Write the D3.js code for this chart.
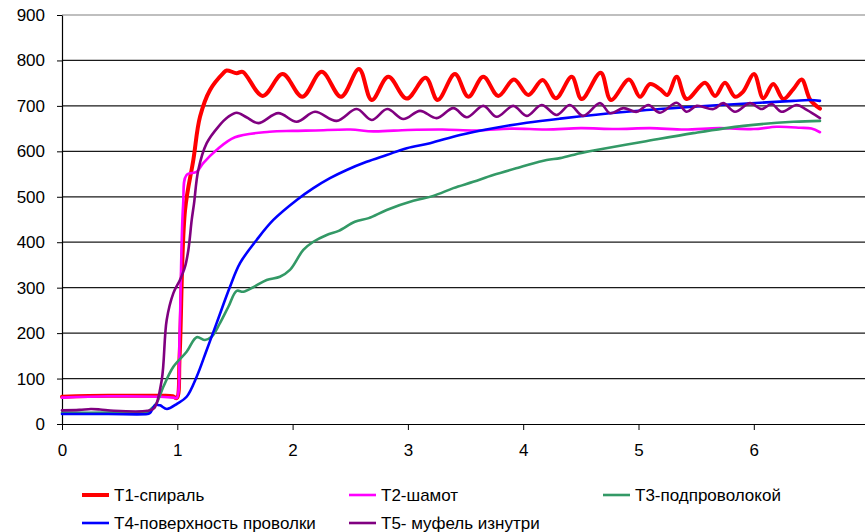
<!DOCTYPE html>
<html>
<head>
<meta charset="utf-8">
<script src="https://cdn.jsdelivr.net/npm/d3@7"></script>
<style>
  html, body { margin: 0; padding: 0; background: #fff; }
  svg { display: block; font-family: "Liberation Sans", Arial, sans-serif; }
</style>
</head>
<body>
<svg id="chart" width="865" height="532"></svg>
<script>
// ---- data (time, temperature) ----
const xTicks = [0, 1, 2, 3, 4, 5, 6];
const yTicks = [0, 100, 200, 300, 400, 500, 600, 700, 800, 900];

const seriesNames = ["T1-спираль", "T2-шамот", "T3-подпроволокой", "T4-поверхность проволки", "T5- муфель изнутри"];
const seriesColors = ["#FF0000", "#FF00FF", "#339966", "#0000FF", "#800080"];

const t1 = [[0,60],[0.4,62],[0.85,62],[0.96,61],[0.995,57],[1.02,150],[1.067,470],[1.139,581],[1.197,676],[1.284,735],[1.399,772],[1.428,778],[1.515,772],[1.567,775],[1.741,722],[1.914,770],[2.084,720],[2.252,775],[2.42,720],[2.576,781],[2.686,713],[2.83,764],[2.99,716],[3.154,762],[3.258,713],[3.408,770],[3.524,720],[3.654,764],[3.784,722],[3.92,758],[4.044,724],[4.169,757],[4.284,717],[4.421,764],[4.507,715],[4.672,773],[4.761,713],[4.918,758],[5.013,720],[5.1,748],[5.187,737],[5.25,724],[5.331,764],[5.418,715],[5.577,751],[5.664,722],[5.75,751],[5.837,720],[5.906,731],[6.002,770],[6.082,717],[6.169,748],[6.256,715],[6.343,737],[6.415,758],[6.49,713],[6.574,694]];

const t2 = [[0,58],[0.4,61],[0.85,60],[0.97,58],[0.995,57],[1.02,200],[1.05,480],[1.08,548],[1.168,555],[1.225,574],[1.34,603],[1.5,631],[1.8,643],[2.0,645],[2.2,646],[2.5,648],[2.7,644],[3.0,647],[3.3,648],[3.6,646],[3.9,650],[4.2,648],[4.5,651],[4.8,649],[5.1,651],[5.4,648],[5.7,651],[6.0,649],[6.2,654],[6.4,652],[6.5,650],[6.574,642]];

const t3 = [[0,25],[0.4,25],[0.74,26],[0.763,31],[0.82,46],[0.879,82],[0.966,126],[1.081,159],[1.168,191],[1.24,185],[1.298,192],[1.37,222],[1.443,258],[1.515,293],[1.572,291],[1.66,301],[1.775,317],[1.89,324],[1.977,339],[2.093,383],[2.18,401],[2.296,416],[2.4,425],[2.54,445],[2.66,453],[2.816,471],[3.047,491],[3.22,502],[3.394,519],[3.567,533],[3.74,548],[3.972,565],[4.204,581],[4.32,585],[4.493,596],[4.61,602],[5.04,621],[5.475,640],[5.91,656],[6.343,665],[6.574,667]];

const t4 = [[0,22],[0.4,22],[0.74,22],[0.763,24],[0.81,42],[0.85,41],[0.91,33],[1.0,45],[1.081,60],[1.168,104],[1.255,163],[1.341,222],[1.457,302],[1.544,354],[1.688,405],[1.833,449],[2.036,493],[2.18,519],[2.324,541],[2.469,559],[2.642,577],[2.816,592],[2.99,607],[3.192,618],[3.452,636],[3.74,651],[4.03,663],[4.32,672],[4.897,687],[5.475,698],[6.054,707],[6.343,711],[6.487,713],[6.574,711]];

const t5 = [[0,30],[0.15,31],[0.25,33],[0.33,32],[0.45,29],[0.74,29],[0.8,35],[0.865,97],[0.908,229],[0.966,288],[1.023,317],[1.067,346],[1.096,383],[1.125,449],[1.145,485],[1.182,559],[1.255,618],[1.355,654],[1.442,676],[1.515,685],[1.6,675],[1.703,662],[1.876,684],[2.036,665],[2.194,687],[2.382,667],[2.556,693],[2.686,669],[2.821,693],[2.96,671],[3.105,689],[3.25,673],[3.394,695],[3.51,675],[3.654,700],[3.77,676],[3.914,700],[4.03,678],[4.16,702],[4.29,680],[4.405,702],[4.52,678],[4.666,706],[4.753,684],[4.869,695],[4.985,687],[5.085,702],[5.186,685],[5.331,707],[5.418,687],[5.505,700],[5.65,693],[5.735,706],[5.837,687],[5.967,706],[6.068,693],[6.155,704],[6.242,687],[6.372,702],[6.459,691],[6.574,673]];

const allSeries = [t1, t2, t3, t4, t5];

// ---- layout ----
const svg = d3.select("#chart");
const plotLeft = 62, plotTop = 15, plotBottom = 424, plotRight = 865;
const x = d3.scaleLinear().domain([0, 7]).range([plotLeft, plotLeft + 7 * 115.3]);
const y = d3.scaleLinear().domain([0, 900]).range([plotBottom, plotTop]);

// gridlines
svg.append("g").selectAll("line").data(yTicks.filter(d => d > 0)).join("line")
  .attr("x1", plotLeft).attr("x2", plotRight)
  .attr("y1", d => y(d)).attr("y2", d => y(d))
  .attr("stroke", d => d === 900 ? "#808080" : "#1a1a1a").attr("stroke-width", 1.2);

// y axis
const yAxis = svg.append("g").attr("transform", `translate(${plotLeft},0)`)
  .call(d3.axisLeft(y).tickValues(yTicks).tickSize(5).tickPadding(12).tickSizeOuter(0));
yAxis.select(".domain").attr("stroke", "#000").attr("stroke-width", 1.2);
yAxis.selectAll(".tick line").attr("stroke", "#000");
yAxis.selectAll("text").attr("font-size", 17).attr("fill", "#000")
  .style("font-family", "'Liberation Sans', Arial, sans-serif");

// x axis
const xAxis = svg.append("g").attr("transform", `translate(0,${plotBottom})`)
  .call(d3.axisBottom(x).tickValues(xTicks).tickFormat(d3.format("d")).tickSize(6).tickPadding(14).tickSizeOuter(0));
xAxis.select(".domain").attr("d", `M${plotLeft},0.5H${plotRight}`).attr("stroke", "#000").attr("stroke-width", 1.2);
xAxis.selectAll(".tick line").attr("stroke", "#000");
xAxis.selectAll("text").attr("font-size", 17).attr("fill", "#000")
  .style("font-family", "'Liberation Sans', Arial, sans-serif");

// lines
const line = d3.line().x(d => x(d[0])).y(d => y(d[1])).curve(d3.curveCatmullRom.alpha(0.5));
const widths = [4, 2.6, 2.6, 2.6, 2.6];
svg.append("g").selectAll("path").data(allSeries).join("path")
  .attr("d", d => line(d))
  .attr("fill", "none")
  .attr("stroke", (d, i) => seriesColors[i])
  .attr("stroke-width", (d, i) => widths[i])
  .attr("stroke-linejoin", "round").attr("stroke-linecap", "round");

// legend
const legendPos = [[82, 495], [349, 495], [603, 495], [82, 523], [349, 523]];
const lg = svg.append("g").selectAll("g").data(seriesNames).join("g")
  .attr("transform", (d, i) => `translate(${legendPos[i][0]},${legendPos[i][1]})`);
lg.append("line").attr("x1", 0).attr("x2", 27).attr("y1", 0).attr("y2", 0)
  .attr("stroke", (d, i) => seriesColors[i]).attr("stroke-width", (d, i) => widths[i]);
lg.append("text").attr("x", 32).attr("y", 0).attr("dy", "0.35em")
  .attr("font-size", 17).attr("fill", "#000").text(d => d);
</script>
</body>
</html>
